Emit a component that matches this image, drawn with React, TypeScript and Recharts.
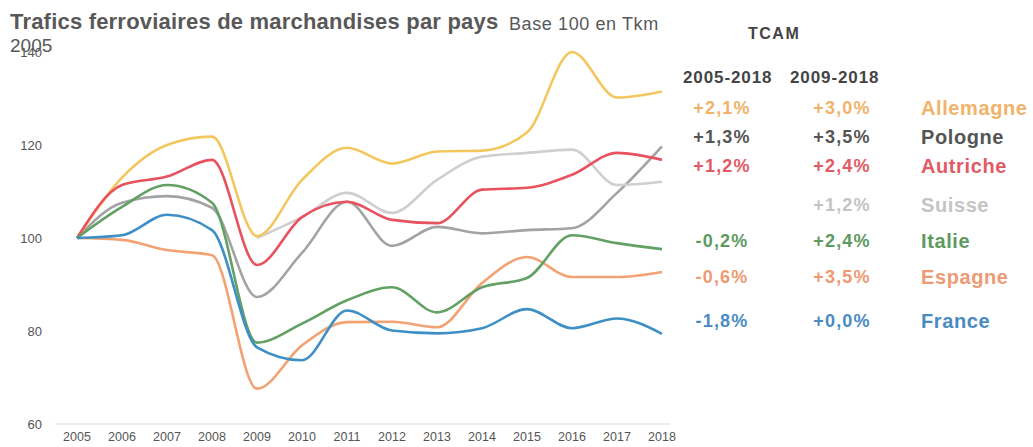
import React from "react";
import { LineChart, Line, XAxis, YAxis } from "recharts";

const years = ["2005", "2006", "2007", "2008", "2009", "2010", "2011", "2012", "2013", "2014", "2015", "2016", "2017", "2018"];

const allemagne = [100, 113, 120, 121.8, 100.4, 112.5, 119.4, 116, 118.6, 118.8, 122.7, 140, 130.2, 131.5];
const pologne = [100, 107.6, 109, 106.5, 87.3, 96.8, 107.8, 98.3, 102.4, 101, 101.7, 102.1, 109.7, 119.7];
const autriche = [100, 111.4, 113.2, 116.8, 94.2, 104.5, 107.8, 103.9, 103.2, 110.4, 110.8, 113.6, 118.3, 116.8];
const suisse = [null, null, null, null, 100, 104.5, 109.7, 105.4, 112.5, 117.5, 118.3, 119, 111.4, 112.1];
const italie = [100, 106.7, 111.4, 107.6, 77.5, 81.6, 86.6, 89.4, 84, 89.4, 91.4, 100.6, 98.9, 97.6];
const espagne = [100, 99.6, 97.4, 96.3, 67.6, 76.9, 81.9, 82, 80.8, 90.3, 95.9, 91.6, 91.6, 92.7];
const france = [100, 100.6, 105, 101.7, 76.5, 73.7, 84.4, 80.1, 79.5, 80.6, 84.7, 80.6, 82.7, 79.4];

const yTicks = [60, 80, 100, 120, 140];

const countries = ["Allemagne", "Pologne", "Autriche", "Suisse", "Italie", "Espagne", "France"];
const tcam0518 = ["+2,1%", "+1,3%", "+1,2%", "", "-0,2%", "-0,6%", "-1,8%"];
const tcam0918 = ["+3,0%", "+3,5%", "+2,4%", "+1,2%", "+2,4%", "+3,5%", "+0,0%"];

const lineColors = ["#F3C75E", "#A3A3A3", "#E8525E", "#CFCFCF", "#62A064", "#F3A273", "#3E8FC6"];
const textColors = ["#F1B36A", "#555555", "#E25A64", "#C4C4C4", "#5E9A60", "#EE9A74", "#4A8CC2"];
const rowY = [108, 137, 166, 205, 241, 277, 321];

const data = years.map((y, i) => ({
  year: y,
  allemagne: allemagne[i],
  pologne: pologne[i],
  autriche: autriche[i],
  suisse: suisse[i],
  italie: italie[i],
  espagne: espagne[i],
  france: france[i],
}));

const keys = ["pologne", "suisse", "allemagne", "autriche", "espagne", "italie", "france"];
const keyColor: Record<string, string> = {
  allemagne: lineColors[0],
  pologne: lineColors[1],
  autriche: lineColors[2],
  suisse: lineColors[3],
  italie: lineColors[4],
  espagne: lineColors[5],
  france: lineColors[6],
};

const font = "'Liberation Sans', Arial, sans-serif";

export default function App() {
  return (
    <div style={{ position: "absolute", left: 0, top: 0, width: 1033, height: 447, background: "#fff", fontFamily: font, overflow: "hidden" }}>
      <LineChart width={700} height={447} data={data} margin={{ top: 52, right: 30, left: 0, bottom: 0 }}>
        <XAxis
          dataKey="year"
          height={23}
          padding={{ left: 22, right: 8 }}
          axisLine={{ stroke: "#dddddd" }}
          tickLine={false}
          tickSize={0}
          tickMargin={8}
          interval={0}
          tick={{ fill: "#555", fontSize: 12.5, fontFamily: font }}
        />
        <YAxis
          domain={[60, 140]}
          ticks={yTicks}
          width={55}
          axisLine={false}
          tickLine={false}
          tickSize={0}
          tickMargin={13}
          tick={{ fill: "#555", fontSize: 13, fontFamily: font }}
        />
        {keys.map((k) => (
          <Line
            key={k}
            dataKey={k}
            type="monotone"
            stroke={keyColor[k]}
            strokeWidth={2.6}
            dot={false}
            isAnimationActive={false}
          />
        ))}
      </LineChart>

      <div style={{ position: "absolute", left: 10, top: 11, lineHeight: 1, fontSize: 22, fontWeight: "bold", letterSpacing: 0.2, color: "#585858", whiteSpace: "nowrap" }}>
        Trafics ferroviaires de marchandises par pays
      </div>
      <div style={{ position: "absolute", left: 509, top: 15, lineHeight: 1, fontSize: 18, letterSpacing: 0.6, color: "#585858", whiteSpace: "nowrap" }}>
        Base 100 en Tkm
      </div>
      <div style={{ position: "absolute", left: 10, top: 36, lineHeight: 1, fontSize: 19, color: "#585858" }}>2005</div>

      <div style={{ position: "absolute", left: 748, top: 26, lineHeight: 1, fontSize: 16, letterSpacing: 1.5, fontWeight: "bold", color: "#444" }}>TCAM</div>
      <div style={{ position: "absolute", left: 683, top: 69, lineHeight: 1, fontSize: 17, letterSpacing: 0.9, fontWeight: "bold", color: "#444" }}>2005-2018</div>
      <div style={{ position: "absolute", left: 790, top: 69, lineHeight: 1, fontSize: 17, letterSpacing: 0.9, fontWeight: "bold", color: "#444" }}>2009-2018</div>

      {countries.map((c, i) => (
        <React.Fragment key={c}>
          <div style={{ position: "absolute", left: 672, width: 100, top: rowY[i] - 10, lineHeight: "20px", textAlign: "center", fontSize: 18, letterSpacing: 1.2, fontWeight: "bold", color: textColors[i] }}>
            {tcam0518[i]}
          </div>
          <div style={{ position: "absolute", left: 792, width: 100, top: rowY[i] - 10, lineHeight: "20px", textAlign: "center", fontSize: 18, letterSpacing: 1.2, fontWeight: "bold", color: textColors[i] }}>
            {tcam0918[i]}
          </div>
          <div style={{ position: "absolute", left: 921, top: rowY[i] - 10, lineHeight: "20px", fontSize: 20, letterSpacing: 0.6, fontWeight: "bold", color: textColors[i], whiteSpace: "nowrap" }}>
            {c}
          </div>
        </React.Fragment>
      ))}
    </div>
  );
}
